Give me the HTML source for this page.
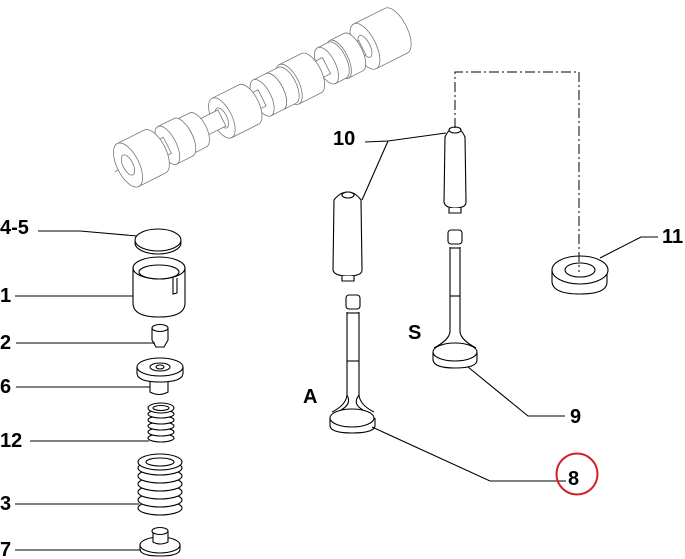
<!DOCTYPE html>
<html><head><meta charset="utf-8"><style>
html,body{margin:0;padding:0;background:#fff;}
svg{display:block}
text{font-family:"Liberation Sans",sans-serif;font-weight:bold;font-size:20px;fill:#000}
</style></head><body>
<svg width="685" height="559" viewBox="0 0 685 559" xmlns="http://www.w3.org/2000/svg">
<!-- camshaft (light gray) -->
<g fill="#fff" stroke="#777" stroke-width="0.8" transform="translate(128,165) rotate(-26.6)">
  <line x1="-15" y1="0" x2="310" y2="0"/>
  <!-- drawn right to left -->
  <path d="M265 -25 L300 -25 A11 25 0 0 1 300 25 L265 25 Z"/>
  <ellipse cx="265" cy="0" rx="11" ry="25"/>
  <ellipse cx="265" cy="0" rx="5" ry="12"/>
  <path d="M250 -8 L262 -8 L262 8 L250 8 Z"/>
  <path d="M236 -21 L252 -21 A9 21 0 0 1 252 21 L236 21 Z"/>
  <ellipse cx="236" cy="0" rx="9" ry="21"/>
  <path d="M222 -20 L234 -20 A9 20 0 0 1 234 20 L222 20 Z"/>
  <ellipse cx="222" cy="0" rx="9" ry="20"/>
  <path d="M205 -9 L222 -9 L222 9 L205 9 Z"/>
  <path d="M180 -22 L205 -22 A10 22 0 0 1 205 22 L180 22 Z"/>
  <ellipse cx="180" cy="0" rx="10" ry="22"/>
  <ellipse cx="180" cy="0" rx="5" ry="11"/>
  <path d="M164 -20 L178 -20 A9 20 0 0 1 178 20 L164 20 Z"/>
  <ellipse cx="164" cy="0" rx="9" ry="20"/>
  <path d="M150 -20 L164 -20 A9 20 0 0 1 164 20 L150 20 Z"/>
  <ellipse cx="150" cy="0" rx="9" ry="20"/>
  <path d="M135 -9 L150 -9 L150 9 L135 9 Z"/>
  <path d="M105 -22 L135 -22 A10 22 0 0 1 135 22 L105 22 Z"/>
  <ellipse cx="105" cy="0" rx="10" ry="22"/>
  <ellipse cx="105" cy="0" rx="5" ry="11"/>
  <path d="M78 -9 L105 -9 L105 9 L78 9 Z"/>
  <path d="M62 -19 L78 -19 A9 19 0 0 1 78 19 L62 19 Z"/>
  <ellipse cx="62" cy="0" rx="9" ry="19"/>
  <path d="M44 -21 L62 -21 A9 21 0 0 1 62 21 L44 21 Z"/>
  <ellipse cx="44" cy="0" rx="9" ry="21"/>
  <path d="M30 -9 L44 -9 L44 9 L30 9 Z"/>
  <path d="M0 -24 L30 -24 A11 24 0 0 1 30 24 L0 24 Z"/>
  <ellipse cx="0" cy="0" rx="11" ry="24"/>
  <ellipse cx="0" cy="0" rx="5" ry="11"/>
</g>

<g fill="#fff" stroke="#000" stroke-width="1.1">
<!-- 4-5 shim -->
<ellipse cx="158" cy="243" rx="23" ry="11"/>
<ellipse cx="158" cy="240" rx="23" ry="11"/>
<!-- 1 bucket -->
<path d="M133 268 L133 303 Q133 317 159 317 Q185 317 185 303 L185 268"/>
<ellipse cx="159" cy="268" rx="26" ry="11"/>
<ellipse cx="159" cy="272" rx="20" ry="7"/>
<path d="M173 278 L173 294 L177 293 L177 278"/>
<!-- 2 -->
<path d="M152 328 L152 340 L156 347 L164 347 L168 340 L168 328"/>
<ellipse cx="160" cy="328" rx="8" ry="3.5"/>
<!-- 6 retainer -->
<path d="M150 380 L150 392 Q159 397 168 392 L168 380"/>
<path d="M137 367 L137 373 Q137 382 160 382 Q183 382 183 373 L183 367"/>
<ellipse cx="160" cy="367" rx="23" ry="9"/>
<ellipse cx="160" cy="367" rx="10" ry="4"/>
<ellipse cx="160" cy="367" rx="4" ry="2"/>
<!-- 12 small spring -->
<g>
<ellipse cx="161" cy="438" rx="13" ry="4"/>
<ellipse cx="161" cy="432" rx="13" ry="4"/>
<ellipse cx="161" cy="426" rx="13" ry="4"/>
<ellipse cx="161" cy="420" rx="13" ry="4"/>
<ellipse cx="161" cy="414" rx="13" ry="4"/>
<ellipse cx="161" cy="408" rx="13" ry="5"/>
<ellipse cx="161" cy="408" rx="8" ry="2.5"/>
</g>
<!-- 3 big spring -->
<g>
<ellipse cx="160" cy="508" rx="22" ry="7"/>
<ellipse cx="160" cy="500" rx="22" ry="7"/>
<ellipse cx="160" cy="492" rx="22" ry="7"/>
<ellipse cx="160" cy="484" rx="22" ry="7"/>
<ellipse cx="160" cy="476" rx="22" ry="7"/>
<ellipse cx="160" cy="468" rx="22" ry="7"/>
<ellipse cx="160" cy="462" rx="22" ry="8"/>
<ellipse cx="160" cy="462" rx="14" ry="4"/>
</g>
<!-- 7 seat -->
<path d="M140 545 L140 549 Q140 556 160 556 Q180 556 180 549 L180 545"/>
<ellipse cx="160" cy="545" rx="20" ry="8"/>
<path d="M153 531 L153 542 Q160 546 168 542 L168 531"/>
<ellipse cx="160" cy="531" rx="8" ry="3.5"/>

<!-- guide A -->
<path d="M334 200 L333 270 Q334 276 348 276 Q362 276 362 270 L361 200 Q355 192 348 192 Q340 192 334 200 Z"/>
<ellipse cx="348" cy="195" rx="6" ry="3"/>
<path d="M342 276 L342 281 L354 281 L354 276"/>
<!-- guide S -->
<path d="M445 137 L444 202 Q445 208 455 208 Q466 208 466 202 L465 137 Q461 128 455 128 Q449 128 445 137 Z"/>
<ellipse cx="455" cy="130" rx="6" ry="3"/>
<path d="M449 208 L449 213 L461 213 L461 208"/>

<!-- valve A -->
<rect x="346" y="295" width="14" height="14" rx="3"/>
<path d="M347 312 L347 395 Q346 405 332 412 M359 312 L359 395 Q360 405 374 412"/>
<line x1="347" y1="313" x2="359" y2="313"/>
<line x1="347" y1="361" x2="359" y2="361"/>
<path d="M330 418 L330 426 Q331 433 352 433 Q374 433 375 426 L375 418"/>
<ellipse cx="352" cy="418" rx="22" ry="9"/>
<path d="M341 410 Q352 404 347 395 M363 410 Q352 404 359 395" fill="none"/>
<!-- valve S -->
<rect x="448" y="230" width="14" height="14" rx="3"/>
<path d="M450 247 L450 332 Q449 340 434 348 M460 247 L460 332 Q461 340 476 348"/>
<line x1="450" y1="248" x2="460" y2="248"/>
<line x1="450" y1="296" x2="460" y2="296"/>
<path d="M433 352 L433 360 Q434 368 455 368 Q477 368 477 360 L477 352"/>
<ellipse cx="455" cy="352" rx="22" ry="9"/>
<!-- 11 seal -->
<path d="M552 270 L552 282 Q553 294 580 294 Q607 294 607 282 L607 270"/>
<ellipse cx="580" cy="270" rx="28" ry="14"/>
<ellipse cx="580" cy="270" rx="15" ry="7"/>
</g>

<!-- dash-dot line -->
<path d="M455 128 L455 72 L579 72 L579 272" fill="none" stroke="#000" stroke-width="1" stroke-dasharray="10 3 2 3"/>

<!-- leaders -->
<g stroke="#000" stroke-width="1.1" fill="none">
<path d="M38 231 L80 231 L137 236"/>
<path d="M15 296 L133 296"/>
<path d="M16 343 L155 343"/>
<path d="M16 387 L150 387"/>
<path d="M30 441 L149 441"/>
<path d="M15 504 L139 504"/>
<path d="M15 550 L141 550"/>
<path d="M365 142 L388 141 L446 133"/>
<path d="M388 141 L362 200"/>
<path d="M600 258 L641 237 L658 237"/>
<path d="M468 367 L528 416 L565 416"/>
<path d="M372 427 L490 481 L566 481"/>
</g>

<!-- labels -->
<text x="0" y="234">4-5</text>
<text x="0" y="302">1</text>
<text x="0" y="349">2</text>
<text x="0" y="393">6</text>
<text x="0" y="447">12</text>
<text x="0" y="510">3</text>
<text x="0" y="556">7</text>
<text x="333" y="145">10</text>
<text x="662" y="243">11</text>
<text x="408" y="339">S</text>
<text x="303" y="403">A</text>
<text x="570" y="423">9</text>
<text x="568" y="485">8</text>
<circle cx="577" cy="474" r="20.5" fill="none" stroke="#d42027" stroke-width="2"/>
</svg>
</body></html>
